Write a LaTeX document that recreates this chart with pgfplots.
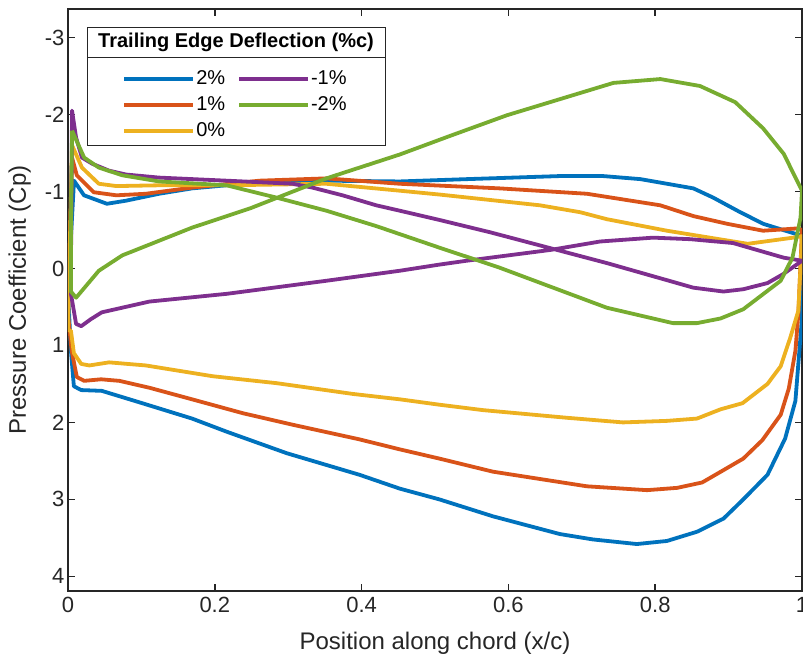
\documentclass[border=0pt]{standalone}
\usepackage{fontspec}
\setmainfont{Liberation Sans}
\usepackage{pgfplots}
\pgfplotsset{compat=1.18}
\definecolor{mblue}{rgb}{0,0.447,0.741}
\definecolor{mred}{rgb}{0.850,0.325,0.098}
\definecolor{myellow}{rgb}{0.929,0.694,0.125}
\definecolor{mpurple}{rgb}{0.494,0.184,0.556}
\definecolor{mgreen}{rgb}{0.466,0.674,0.188}
\definecolor{axgray}{rgb}{0.15,0.15,0.15}
\begin{document}
\begin{tikzpicture}
\useasboundingbox (-68pt,-73pt) rectangle (735pt,591pt);
\begin{axis}[
  at={(0pt,0pt)}, anchor=south west,
  scale only axis, width=734pt, height=582pt,
  xmin=0, xmax=1, ymin=-3.37, ymax=4.19, y dir=reverse,
  xtick={0,0.2,0.4,0.6,0.8,1},
  xticklabels={0,0.2,0.4,0.6,0.8,1},
  ytick={-3,-2,-1,0,1,2,3,4},
  yticklabels={-3,-2,-1,0,1,2,3,4},
  tick align=inside,
  major tick length=7pt,
  tick style={axgray, line width=1.5pt},
  axis line style={axgray, line width=2.2pt},
  tick label style={font=\fontsize{22}{26}\selectfont, text=axgray},
  xticklabel style={yshift=-3pt},
  label style={font=\fontsize{24}{28}\selectfont, text=axgray},
  xlabel={Position along chord (x/c)},
  ylabel={Pressure Coefficient (Cp)},
  x label style={at={(axis description cs:0.5,-0.089)}, anchor=center},
  y label style={at={(axis description cs:-0.066,0.5)}, anchor=center},
  every axis plot/.append style={line width=3.8pt, line join=round},
  legend image code/.code={\draw[#1] (0pt,0pt) -- (69pt,0pt);},
  transpose legend,
  legend columns=3,
  legend cell align=left,
  legend style={at={(axis description cs:0.0740,0.8986)}, anchor=north west,
    draw=none, fill=none, inner sep=0pt, row sep=4pt,
    font=\fontsize{20}{24}\selectfont,
    nodes={text height=15pt, text depth=5pt, inner sep=1pt},
    /tikz/every even column/.append style={column sep=11pt},
    /tikz/every odd column/.append style={column sep=0pt}},
]
\draw[axgray, line width=1pt, fill=white] (rel axis cs:0.0272,0.7663) rectangle (rel axis cs:0.4332,0.9674);
\draw[axgray, line width=1pt] (rel axis cs:0.0272,0.9175) -- (rel axis cs:0.4332,0.9175);
\node[font=\bfseries\fontsize{20}{24}\selectfont, text=black] at (rel axis cs:0.2289,0.9433) {Trailing Edge Deflection (\%c)};

% 2%
\addplot[mblue] coordinates {
(0,0.3) (0.0082,-1.14) (0.0218,-0.95) (0.053,-0.84) (0.079,-0.88) (0.124,-0.97) (0.169,-1.04) (0.216,-1.08) (0.261,-1.10) (0.352,-1.14) (0.452,-1.13) (0.543,-1.16) (0.670,-1.20) (0.729,-1.20) (0.780,-1.16) (0.852,-1.04) (0.879,-0.92) (0.912,-0.75) (0.947,-0.58) (0.991,-0.45) (1.0,-0.42)
(1.0,0.64) (0.991,1.72) (0.977,2.21) (0.953,2.68) (0.920,3.00) (0.893,3.25) (0.857,3.42) (0.816,3.54) (0.775,3.58) (0.715,3.52) (0.670,3.45) (0.579,3.22) (0.506,3.00) (0.452,2.86) (0.397,2.68) (0.298,2.40) (0.216,2.12) (0.169,1.95) (0.101,1.75) (0.046,1.59) (0.018,1.58) (0.008,1.53) (0.004,1.07) (0,0.3)
};
\addlegendentry{2\%}
% 1%
\addplot[mred] coordinates {
(0,0.6) (0.0055,-1.44) (0.012,-1.21) (0.035,-0.99) (0.066,-0.95) (0.106,-0.97) (0.169,-1.05) (0.261,-1.14) (0.352,-1.17) (0.452,-1.10) (0.588,-1.04) (0.707,-0.97) (0.807,-0.82) (0.852,-0.68) (0.898,-0.58) (0.947,-0.49) (0.994,-0.52) (1.0,-0.50)
(0.995,0.59) (0.991,1.07) (0.982,1.56) (0.971,1.90) (0.946,2.23) (0.920,2.47) (0.893,2.62) (0.864,2.78) (0.830,2.85) (0.789,2.88) (0.707,2.83) (0.579,2.64) (0.506,2.47) (0.452,2.35) (0.397,2.22) (0.306,2.03) (0.238,1.88) (0.169,1.70) (0.111,1.55) (0.070,1.46) (0.045,1.44) (0.022,1.46) (0.012,1.41) (0.005,1.07) (0,0.6)
};
\addlegendentry{1\%}
% 0%
\addplot[myellow] coordinates {
(0,0.8) (0.0055,-1.60) (0.019,-1.31) (0.042,-1.10) (0.066,-1.07) (0.124,-1.08) (0.216,-1.08) (0.352,-1.10) (0.452,-1.01) (0.506,-0.96) (0.643,-0.82) (0.698,-0.73) (0.734,-0.64) (0.816,-0.49) (0.926,-0.32) (0.988,-0.40) (1.0,-0.42)
(0.995,0.55) (0.984,0.90) (0.971,1.27) (0.953,1.50) (0.919,1.75) (0.889,1.83) (0.857,1.95) (0.816,1.98) (0.756,2.00) (0.680,1.94) (0.565,1.84) (0.506,1.77) (0.452,1.70) (0.388,1.63) (0.284,1.49) (0.197,1.40) (0.106,1.26) (0.056,1.22) (0.029,1.26) (0.018,1.24) (0.008,1.10) (0.004,0.81) (0,0.8)
};
\addlegendentry{0\%}
% -1%
\addplot[mpurple] coordinates {
(0.004,0.0) (0.0055,-2.05) (0.011,-1.70) (0.019,-1.44) (0.033,-1.36) (0.056,-1.27) (0.079,-1.22) (0.124,-1.18) (0.216,-1.14) (0.306,-1.10) (0.333,-1.05) (0.374,-0.95) (0.420,-0.82) (0.452,-0.75) (0.506,-0.63) (0.575,-0.47) (0.734,-0.07) (0.852,0.25) (0.893,0.30) (0.920,0.27) (0.953,0.19) (0.975,0.07) (1.0,-0.10)
(0.975,-0.14) (0.906,-0.33) (0.848,-0.38) (0.797,-0.40) (0.725,-0.35) (0.657,-0.24) (0.543,-0.10) (0.506,-0.05) (0.452,0.03) (0.352,0.16) (0.216,0.33) (0.111,0.43) (0.046,0.57) (0.031,0.66) (0.018,0.75) (0.011,0.72) (0.004,0.33) (0.004,0.0)
};
\addlegendentry{-1\%}
% -2%
\addplot[mgreen] coordinates {
(0.0055,-1.79) (0.022,-1.44) (0.042,-1.31) (0.074,-1.21) (0.124,-1.13) (0.216,-1.08) (0.284,-0.92) (0.352,-0.75) (0.420,-0.55) (0.506,-0.27) (0.588,-0.01) (0.734,0.51) (0.824,0.71) (0.857,0.71) (0.889,0.65) (0.920,0.53) (0.971,0.16) (0.987,-0.14) (0.998,-0.66) (1.0,-1.01)
(0.975,-1.49) (0.947,-1.82) (0.909,-2.16) (0.861,-2.37) (0.807,-2.46) (0.743,-2.41) (0.598,-1.99) (0.520,-1.72) (0.452,-1.48) (0.352,-1.17) (0.248,-0.78) (0.169,-0.53) (0.074,-0.17) (0.042,0.03) (0.011,0.38) (0.004,0.30) (0.004,-0.5) (0.0055,-1.79)
};
\addlegendentry{-2\%}
\end{axis}
\end{tikzpicture}
\end{document}
